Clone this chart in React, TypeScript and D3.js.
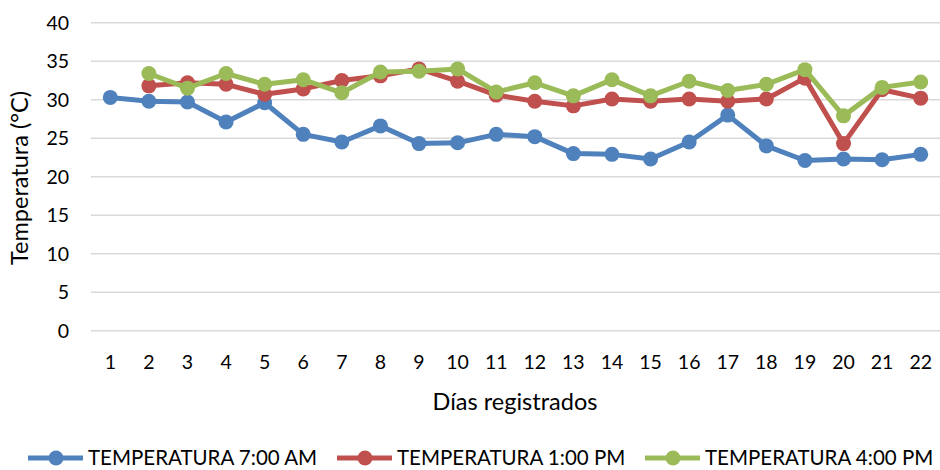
import React from "react";
import * as d3 from "d3";

const days = ["1","2","3","4","5","6","7","8","9","10","11","12","13","14","15","16","17","18","19","20","21","22"];
const temp7am: (number | null)[] = [30.3,29.8,29.7,27.1,29.6,25.5,24.5,26.6,24.3,24.4,25.5,25.2,23.0,22.9,22.3,24.5,28.0,24.0,22.1,22.3,22.2,22.9];
const temp1pm: (number | null)[] = [null,31.8,32.2,32.0,30.7,31.4,32.5,33.1,34.0,32.4,30.6,29.8,29.2,30.1,29.8,30.1,29.8,30.1,32.8,24.3,31.3,30.2];
const temp4pm: (number | null)[] = [null,33.4,31.5,33.4,32.0,32.6,30.9,33.6,33.7,34.0,31.0,32.2,30.5,32.6,30.5,32.4,31.2,32.0,33.9,27.9,31.6,32.3];
const yTicks = [0,5,10,15,20,25,30,35,40];
const seriesNames = ["TEMPERATURA 7:00 AM","TEMPERATURA 1:00 PM","TEMPERATURA 4:00 PM"];
const seriesColors = ["#4F81BD","#C0504D","#9BBB59"];

const W = 940, H = 470;
const FONT = "Lato, 'Open Sans', sans-serif";

export default function App() {
  const x = d3.scaleBand().domain(days).range([91, 940]);
  const y = d3.scaleLinear().domain([0, 40]).range([330.7, 22.7]);
  const allSeries = [temp7am, temp1pm, temp4pm];
  const line = d3.line<{ d: string; v: number | null }>()
    .defined(p => p.v !== null)
    .x(p => (x(p.d) as number) + x.bandwidth() / 2)
    .y(p => y(p.v as number));

  const legendX = [28, 337, 645];

  return (
    <svg width={W} height={H} style={{ position: "absolute", left: 0, top: 0, background: "#fff" }} fontFamily={FONT}>
      {yTicks.map(t => (
        <g key={t}>
          <line x1={91} x2={940} y1={y(t)} y2={y(t)} stroke="#d9d9d9" strokeWidth={1.5} />
          <text x={69} y={y(t)} dy="0.36em" textAnchor="end" fontSize={19.5} fill="#000">{t}</text>
        </g>
      ))}
      {days.map(d => (
        <text key={d} x={(x(d) as number) + x.bandwidth() / 2} y={362} dy="0.36em" textAnchor="middle" fontSize={19.5} fill="#000">{d}</text>
      ))}
      <text x={515} y={402} dy="0.36em" textAnchor="middle" fontSize={23.5} fill="#000">Días registrados</text>
      <text transform={`translate(20,178) rotate(-90)`} dy="0.36em" textAnchor="middle" fontSize={23.5} fill="#000">Temperatura (°C)</text>
      {allSeries.map((s, i) => {
        const pts = days.map((d, j) => ({ d, v: s[j] }));
        return (
          <g key={i}>
            <path d={line(pts) || ""} fill="none" stroke={seriesColors[i]} strokeWidth={5} strokeLinejoin="round" />
            {pts.filter(p => p.v !== null).map(p => (
              <circle key={p.d} cx={(x(p.d) as number) + x.bandwidth() / 2} cy={y(p.v as number)} r={7.5} fill={seriesColors[i]} />
            ))}
          </g>
        );
      })}
      {seriesNames.map((n, i) => (
        <g key={n} transform={`translate(${legendX[i]},458)`}>
          <line x1={0} x2={55} y1={0} y2={0} stroke={seriesColors[i]} strokeWidth={5} />
          <circle cx={28} cy={0} r={7.5} fill={seriesColors[i]} />
          <text x={60} y={0} dy="0.36em" fontSize={20.5} fill="#000">{n}</text>
        </g>
      ))}
    </svg>
  );
}
